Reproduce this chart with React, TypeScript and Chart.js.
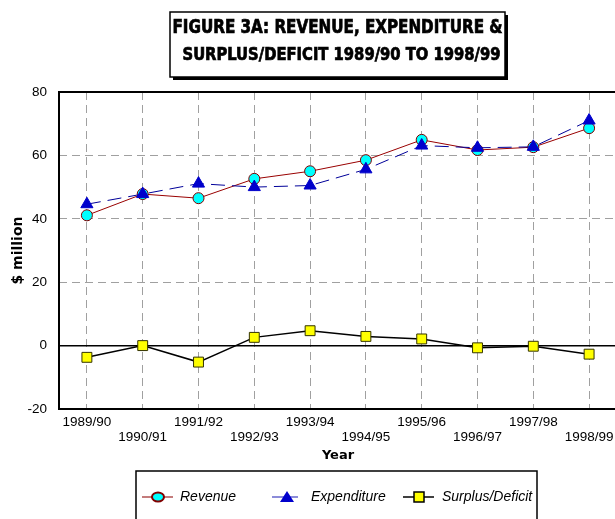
import React, { useEffect, useRef } from "react";
import { Chart, registerables } from "chart.js";

Chart.register(...registerables);

const years = ["1989/90", "1990/91", "1991/92", "1992/93", "1993/94", "1994/95", "1995/96", "1996/97", "1997/98", "1998/99"];
const revenue = [41.1, 47.8, 46.5, 52.6, 55.0, 58.5, 64.9, 61.7, 62.6, 68.6];
const expenditure = [44.6, 47.8, 51.1, 50.0, 50.5, 55.6, 63.1, 62.4, 62.7, 71.0];
const surplus = [-3.7, 0, -5.2, 2.6, 4.7, 2.9, 2.1, -0.7, -0.2, -2.7];
const yMin = -20;
const yMax = 80;
const yStep = 20;
const titleLines = ["FIGURE 3A: REVENUE, EXPENDITURE &", "SURPLUS/DEFICIT 1989/90 TO 1998/99"];
const seriesNames = ["Revenue", "Expenditure", "Surplus/Deficit"];
const yTitle = "$ million";
const xTitle = "Year";

const GRID = "#A0A0A0";

function fitText(ctx: CanvasRenderingContext2D, text: string, cx: number, cy: number, width: number, font: string) {
  ctx.save();
  ctx.font = font;
  ctx.textAlign = "center";
  ctx.textBaseline = "middle";
  const w = ctx.measureText(text).width;
  ctx.translate(cx, cy);
  ctx.scale(width / w, 1);
  ctx.fillStyle = "#000";
  ctx.strokeStyle = "#000";
  ctx.lineWidth = 0.7;
  ctx.fillText(text, 0, 0);
  ctx.strokeText(text, 0, 0);
  ctx.restore();
}

const decorPlugin = {
  id: "decor",
  beforeDatasetsDraw(chart: any) {
    const { ctx, chartArea: a } = chart;
    ctx.save();
    ctx.strokeStyle = "#000";
    ctx.lineWidth = 2;
    ctx.strokeRect(a.left, a.top, a.right - a.left, a.bottom - a.top);
    ctx.restore();
  },
  afterDraw(chart: any) {
    const ctx: CanvasRenderingContext2D = chart.ctx;
    // title box
    const bx = 170, by = 12, bw = 335, bh = 65;
    ctx.save();
    ctx.fillStyle = "#000";
    ctx.fillRect(bx + 3, by + 3, bw, bh);
    ctx.fillStyle = "#fff";
    ctx.fillRect(bx, by, bw, bh);
    ctx.strokeStyle = "#000";
    ctx.lineWidth = 1.5;
    ctx.strokeRect(bx, by, bw, bh);
    ctx.restore();
    const tf = '"Liberation Sans Narrow", "DejaVu Sans Condensed", "Liberation Sans", sans-serif';
    fitText(ctx, titleLines[0], bx + bw / 2, 28, 330, `bold 19px ${tf}`);
    fitText(ctx, titleLines[1], bx + bw / 2 + 4, 55, 318, `bold 18px ${tf}`);

    // legend box
    ctx.save();
    ctx.strokeStyle = "#000";
    ctx.lineWidth = 1.5;
    ctx.strokeRect(136, 471, 401, 70);
    const ly = 497;
    ctx.font = 'italic 14px "Liberation Sans", Arial, sans-serif';
    ctx.textBaseline = "middle";
    ctx.textAlign = "left";
    // revenue
    ctx.strokeStyle = "#b05050";
    ctx.lineWidth = 1.5;
    ctx.beginPath(); ctx.moveTo(142, ly); ctx.lineTo(173, ly); ctx.stroke();
    ctx.beginPath(); ctx.ellipse(158, ly, 6, 4.5, 0, 0, Math.PI * 2);
    ctx.fillStyle = "#00FFFF"; ctx.fill();
    ctx.strokeStyle = "#800000"; ctx.lineWidth = 2; ctx.stroke();
    ctx.fillStyle = "#000";
    ctx.fillText(seriesNames[0], 180, ly);
    // expenditure
    ctx.strokeStyle = "#6666cc";
    ctx.lineWidth = 1.5;
    ctx.beginPath(); ctx.moveTo(272, ly); ctx.lineTo(298, ly); ctx.stroke();
    ctx.beginPath();
    ctx.moveTo(287, ly - 6); ctx.lineTo(294, ly + 5); ctx.lineTo(280, ly + 5); ctx.closePath();
    ctx.fillStyle = "#0000CC"; ctx.fill();
    ctx.fillStyle = "#000";
    ctx.fillText(seriesNames[1], 311, ly);
    // surplus
    ctx.strokeStyle = "#000";
    ctx.lineWidth = 1.5;
    ctx.beginPath(); ctx.moveTo(403, ly); ctx.lineTo(434, ly); ctx.stroke();
    ctx.fillStyle = "#FFFF00";
    ctx.fillRect(414, ly - 5, 10, 10);
    ctx.strokeStyle = "#000"; ctx.lineWidth = 1.5;
    ctx.strokeRect(414, ly - 5, 10, 10);
    ctx.fillStyle = "#000";
    ctx.fillText(seriesNames[2], 442, ly);
    ctx.restore();
  },
};

export default function App() {
  const ref = useRef<HTMLCanvasElement>(null);
  useEffect(() => {
    const labels = years.map((y, i) => (i % 2 === 0 ? [y] : ["", y]));
    const tickFont = { family: '"Liberation Sans", Arial, sans-serif', size: 13.5, lineHeight: 1.12 };
    const chart = new Chart(ref.current as HTMLCanvasElement, {
      type: "line",
      data: {
        labels,
        datasets: [
          {
            label: seriesNames[0],
            data: revenue,
            borderColor: "#990000",
            borderWidth: 1,
            pointStyle: "circle",
            pointRadius: 5.5,
            pointBackgroundColor: "#00FFFF",
            pointBorderColor: "#800000",
            pointBorderWidth: 1,
            tension: 0,
            order: 2,
          },
          {
            label: seriesNames[1],
            data: expenditure,
            borderColor: "#000099",
            borderWidth: 1,
            borderDash: [14, 7],
            pointStyle: "triangle",
            pointRadius: 7,
            pointBackgroundColor: "#0000CC",
            pointBorderColor: "#0000CC",
            pointBorderWidth: 1,
            tension: 0,
            order: 1,
          },
          {
            label: seriesNames[2],
            data: surplus,
            borderColor: "#000000",
            borderWidth: 1.5,
            pointStyle: "rect",
            pointRadius: 7,
            pointBackgroundColor: "#FFFF00",
            pointBorderColor: "#333300",
            pointBorderWidth: 1,
            tension: 0,
            order: 0,
          },
        ],
      },
      options: {
        responsive: false,
        animation: false,
        layout: { padding: { top: 92, left: 0, right: 13, bottom: 50 } },
        plugins: { legend: { display: false }, tooltip: { enabled: false } },
        scales: {
          x: {
            type: "category",
            offset: true,
            afterFit: (s: any) => { s.height = 60; },
            grid: { color: GRID, lineWidth: 1, drawTicks: false, offset: false },
            border: { display: false, dash: [8, 5] },
            ticks: {
              autoSkip: false,
              maxRotation: 0,
              minRotation: 0,
              padding: 6,
              color: "#000",
              font: tickFont,
            },
            title: {
              display: true,
              text: xTitle,
              color: "#000",
              font: { family: '"DejaVu Sans", sans-serif', size: 13, weight: "bold" },
              padding: { top: 0, bottom: 6 },
            },
          },
          y: {
            min: yMin,
            max: yMax,
            afterFit: (s: any) => { s.width = 59; },
            ticks: {
              stepSize: yStep,
              padding: 12,
              color: "#000",
              font: tickFont,
              callback: (v: any) => String(v),
            },
            grid: {
              drawTicks: false,
              color: (c: any) => (c.tick && c.tick.value === 0 ? "#000" : GRID),
              lineWidth: (c: any) => (c.tick && c.tick.value === 0 ? 1.5 : 1),
            },
            border: {
              display: false,
              dash: (c: any) => (c.tick && c.tick.value === 0 ? [] : [8, 5]),
            },
            title: {
              display: true,
              text: yTitle,
              color: "#000",
              font: { family: '"DejaVu Sans", sans-serif', size: 14, weight: "bold" },
              padding: { top: 10, bottom: 0 },
            },
          },
        },
      },
      plugins: [decorPlugin],
    } as any);
    return () => chart.destroy();
  }, []);
  return (
    <div style={{ position: "fixed", left: 0, top: 0, width: 615, height: 519, overflow: "hidden", background: "#fff" }}>
      <canvas ref={ref} width={630} height={519} style={{ display: "block", width: 630, height: 519 }} />
    </div>
  );
}
